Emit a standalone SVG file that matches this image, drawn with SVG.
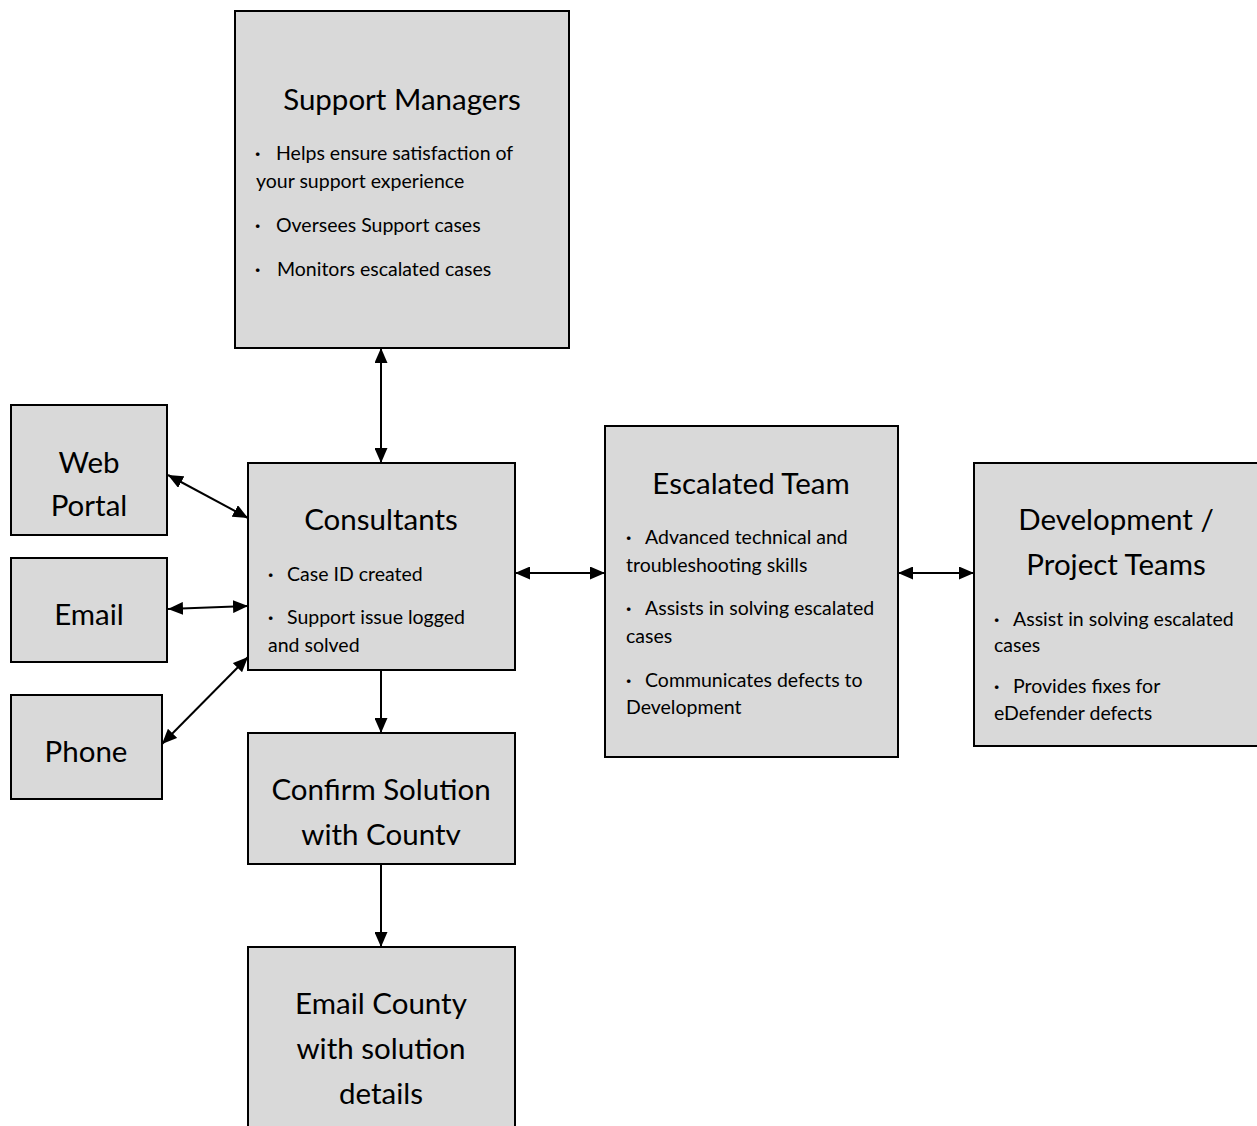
<svg xmlns="http://www.w3.org/2000/svg" width="1257" height="1126" viewBox="0 0 1257 1126">
<style>
.box{fill:#d9d9d9;stroke:#000;stroke-width:2}
.t{font-family:Lato,"Open Sans","Liberation Sans",sans-serif;fill:#000}
.h{font-size:29.5px;text-anchor:middle}
.b{font-size:19.5px}
.d{font-weight:bold}
.c{stroke:#000;stroke-width:2;fill:none;marker-start:url(#a);marker-end:url(#a)}
.c1{stroke:#000;stroke-width:2;fill:none;marker-end:url(#a)}
</style>
<defs>
<marker id="a" viewBox="0 0 15 13" refX="15" refY="6.5" markerWidth="15" markerHeight="13" markerUnits="userSpaceOnUse" orient="auto-start-reverse"><path d="M0,0L15,6.5L0,13z" fill="#000"/></marker>
<clipPath id="cw"><rect x="11" y="405" width="157" height="111"/></clipPath>
<clipPath id="cc"><rect x="248" y="733" width="268" height="112"/></clipPath>
</defs>
<rect width="1257" height="1126" fill="#fff"/>
<g id="connectors">
<line class="c" x1="381" y1="348" x2="381" y2="463"/>
<line class="c" x1="168" y1="475" x2="248" y2="518"/>
<line class="c" x1="168" y1="609" x2="248" y2="606"/>
<line class="c" x1="162" y1="744" x2="248" y2="657"/>
<line class="c1" x1="381" y1="670" x2="381" y2="733"/>
<line class="c1" x1="381" y1="864" x2="381" y2="947"/>
<line class="c" x1="515" y1="573" x2="605" y2="573"/>
<line class="c" x1="898" y1="573" x2="974" y2="573"/>
</g>
<g id="support-managers">
<rect class="box" x="235" y="11" width="334" height="337"/>
<text class="t h" x="402" y="110">Support Managers</text>
<text class="t b"><tspan class="d" x="255" y="160">·</tspan><tspan x="276" y="160">Helps ensure satisfaction of</tspan><tspan x="256" y="188">your support experience</tspan><tspan class="d" x="255" y="232">·</tspan><tspan x="276" y="232">Oversees Support cases</tspan><tspan class="d" x="255" y="276">·</tspan><tspan x="277" y="276">Monitors escalated cases</tspan></text>
</g>
<g id="web-portal">
<rect class="box" x="11" y="405" width="156" height="130"/>
<g clip-path="url(#cw)"><text class="t h" x="89" y="473">Web</text><text class="t h" x="89" y="516">Portal</text></g>
</g>
<g id="email">
<rect class="box" x="11" y="558" width="156" height="104"/>
<text class="t h" x="89" y="625">Email</text>
</g>
<g id="phone">
<rect class="box" x="11" y="695" width="151" height="104"/>
<text class="t h" x="86" y="762">Phone</text>
</g>
<g id="consultants">
<rect class="box" x="248" y="463" width="267" height="207"/>
<text class="t h" x="381" y="530">Consultants</text>
<text class="t b"><tspan class="d" x="268" y="581">·</tspan><tspan x="287" y="581">Case ID created</tspan><tspan class="d" x="268" y="624">·</tspan><tspan x="287" y="624">Support issue logged</tspan><tspan x="268" y="652">and solved</tspan></text>
</g>
<g id="confirm-solution">
<rect class="box" x="248" y="733" width="267" height="131"/>
<g clip-path="url(#cc)"><text class="t h" x="381" y="800">Confirm Solution</text><text class="t h" x="381" y="845">with County</text></g>
</g>
<g id="email-county">
<rect class="box" x="248" y="947" width="267" height="190"/>
<text class="t h" x="381" y="1014">Email County</text>
<text class="t h" x="381" y="1059">with solution</text>
<text class="t h" x="381" y="1104">details</text>
</g>
<g id="escalated-team">
<rect class="box" x="605" y="426" width="293" height="331"/>
<text class="t h" x="751" y="494">Escalated Team</text>
<text class="t b"><tspan class="d" x="626" y="544">·</tspan><tspan x="645" y="544">Advanced technical and</tspan><tspan x="626" y="572">troubleshooting skills</tspan><tspan class="d" x="626" y="615">·</tspan><tspan x="645" y="615">Assists in solving escalated</tspan><tspan x="626" y="643">cases</tspan><tspan class="d" x="626" y="687">·</tspan><tspan x="645" y="687">Communicates defects to</tspan><tspan x="626" y="714">Development</tspan></text>
</g>
<g id="development-teams">
<rect class="box" x="974" y="463" width="290" height="283"/>
<text class="t h" x="1116" y="530">Development /</text>
<text class="t h" x="1116" y="575">Project Teams</text>
<text class="t b"><tspan class="d" x="994" y="626">·</tspan><tspan x="1013" y="626">Assist in solving escalated</tspan><tspan x="994" y="652">cases</tspan><tspan class="d" x="994" y="693">·</tspan><tspan x="1013" y="693">Provides fixes for</tspan><tspan x="994" y="720">eDefender defects</tspan></text>
</g>
</svg>
